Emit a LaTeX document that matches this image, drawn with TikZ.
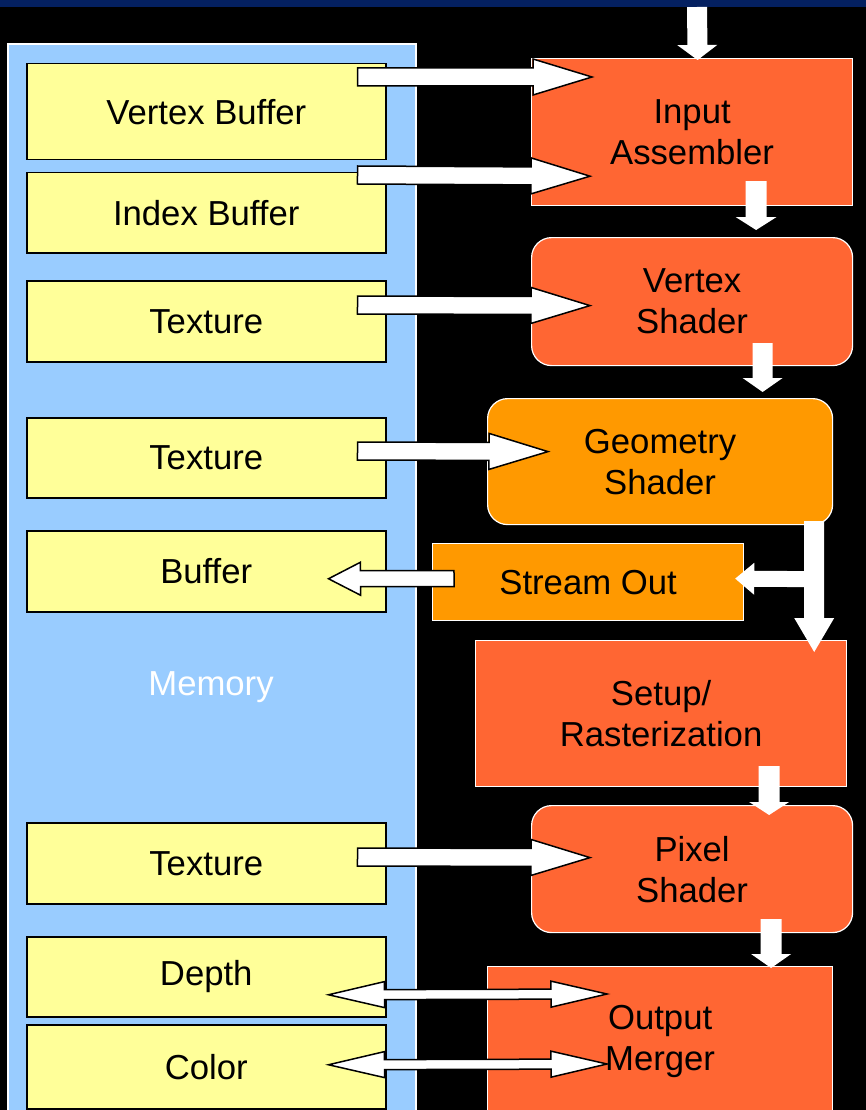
\documentclass[tikz,border=0pt]{standalone}
\usepackage{fontspec}
\setmainfont{Liberation Sans}
\usetikzlibrary{calc}

\definecolor{navybar}{RGB}{4,32,96}
\definecolor{memblue}{RGB}{153,204,255}
\definecolor{bufyellow}{RGB}{255,255,153}
\definecolor{stagered}{RGB}{255,102,51}
\definecolor{stageorange}{RGB}{255,153,0}

\tikzset{
	adims/.code args={#1/#2/#3}{\def\aw{#1}\def\ah{#2}\def\al{#3}},
	membox/.style={draw=black, fill=bufyellow, line width=1.5pt, anchor=north west,
		minimum width=359pt, inner sep=0pt},
	stage/.style={draw=white, line width=1.2pt, anchor=north west, inner sep=0pt, align=center},
	outarrow/.style={draw=black, fill=white, line width=1.5pt, line join=miter},
	flowarrow/.style={fill=white},
}

% block arrow: start, tip
\newcommand{\blockarrow}[3][]{%
	\path[#1] let \p1=#2, \p2=#3, \n1={veclen(\x2-\x1,\y2-\y1)},
		\n2={(\x2-\x1)/\n1}, \n3={(\y2-\y1)/\n1} in
		({\x1-\aw*\n3},{\y1+\aw*\n2})
		-- ({\x2-\al*\n2-\aw*\n3},{\y2-\al*\n3+\aw*\n2})
		-- ({\x2-\al*\n2-\ah*\n3},{\y2-\al*\n3+\ah*\n2})
		-- (\p2)
		-- ({\x2-\al*\n2+\ah*\n3},{\y2-\al*\n3-\ah*\n2})
		-- ({\x2-\al*\n2+\aw*\n3},{\y2-\al*\n3-\aw*\n2})
		-- ({\x1+\aw*\n3},{\y1-\aw*\n2}) -- cycle;}
% two-headed block arrow
\newcommand{\dblockarrow}[3][]{%
	\path[#1] let \p1=#2, \p2=#3, \n1={veclen(\x2-\x1,\y2-\y1)},
		\n2={(\x2-\x1)/\n1}, \n3={(\y2-\y1)/\n1} in
		(\p1)
		-- ({\x1+\al*\n2-\ah*\n3},{\y1+\al*\n3+\ah*\n2})
		-- ({\x1+\al*\n2-\aw*\n3},{\y1+\al*\n3+\aw*\n2})
		-- ({\x2-\al*\n2-\aw*\n3},{\y2-\al*\n3+\aw*\n2})
		-- ({\x2-\al*\n2-\ah*\n3},{\y2-\al*\n3+\ah*\n2})
		-- (\p2)
		-- ({\x2-\al*\n2+\ah*\n3},{\y2-\al*\n3-\ah*\n2})
		-- ({\x2-\al*\n2+\aw*\n3},{\y2-\al*\n3-\aw*\n2})
		-- ({\x1+\al*\n2+\aw*\n3},{\y1+\al*\n3-\aw*\n2})
		-- ({\x1+\al*\n2+\ah*\n3},{\y1+\al*\n3-\ah*\n2}) -- cycle;}

\begin{document}
\begin{tikzpicture}[x=1pt, y=-1pt, font=\fontsize{34.7}{41}\selectfont]
	\useasboundingbox (0,0) rectangle (866,1110);
	\fill[black] (0,0) rectangle (866,1110);
	\fill[navybar] (0,0) rectangle (866,7);

	% memory side
	\node[draw=white, line width=2pt, fill=memblue, anchor=north west, inner sep=0pt,
		minimum width=408pt, minimum height=1080pt] (mem) at (7,43) {};
	\node[text=white] (memlbl) at (211,687) {Memory};

	\node[membox, minimum height=96pt] (vb) at (26,63) {Vertex Buffer};
	\node[membox, minimum height=80pt] (ib) at (26,172) {Index Buffer};
	\node[membox, minimum height=81pt] (tx1) at (26,280) {Texture};
	\node[membox, minimum height=80pt] (tx2) at (26,417) {Texture};
	\node[membox, minimum height=81pt] (buf) at (26,530) {Buffer};
	\node[membox, minimum height=81pt] (tx3) at (26,822) {Texture};
	\node[membox, minimum height=80pt] (dep) at (26,936) {Depth};
	\node[membox, minimum height=84pt] (col) at (26,1024) {Color};

	% pipeline
	\node[stage, fill=stagered, minimum width=321pt, minimum height=147pt] (ia) at (531,58) {Input\\Assembler};
	\node[stage, fill=stagered, rounded corners=20pt, minimum width=321pt, minimum height=128pt] (vs) at (531,237) {Vertex\\Shader};
	\node[stage, fill=stageorange, rounded corners=20pt, minimum width=345pt, minimum height=126pt] (gs) at (487,398) {Geometry\\Shader};
	\node[stage, fill=stageorange, minimum width=311pt, minimum height=77pt] (so) at (432,543) {Stream Out};
	\node[stage, fill=stagered, minimum width=371pt, minimum height=146pt] (sr) at (475,640) {Setup/\\Rasterization};
	\node[stage, fill=stagered, rounded corners=20pt, minimum width=321pt, minimum height=127pt] (ps) at (531,805) {Pixel\\Shader};
	\node[stage, fill=stagered, minimum width=345pt, minimum height=149pt] (om) at (487,966) {Output\\Merger};

	% flow down the pipeline
	\coordinate (feed) at (697,7);
	\blockarrow[flowarrow, adims=10/20/15]{(feed)}{($(ia.north)+(5.5,2)$)}
	\blockarrow[flowarrow, adims=10.5/20.5/13]{($(ia.south)+(64,-25)$)}{($(vs.north)+(64,-7)$)}
	\blockarrow[flowarrow, adims=10/20/14]{($(vs.south)+(70.5,-23)$)}{($(gs.north)+(102.5,-6)$)}
	\blockarrow[flowarrow, adims=10/20/34]{($(gs.south east)+(-19,-4)$)}{($(sr.north east)+(-33,12)$)}
	\coordinate (split) at ($(gs.south east)+(-19,54)$);
	\blockarrow[flowarrow, adims=8/16/19]{(split)}{($(so.east)+(-9,-3.5)$)}
	\blockarrow[flowarrow, adims=10.5/20/13]{($(sr.south)+(108,-21)$)}{($(ps.north)+(77,10)$)}
	\blockarrow[flowarrow, adims=10.5/20/14]{($(ps.south)+(79,-14)$)}{($(om.north)+(111,2)$)}

	% memory traffic
	\blockarrow[outarrow, adims=9/18/59]{($(vb.north east)+(-29,14)$)}{($(ia.north west)+(61,19)$)}
	\blockarrow[outarrow, adims=9/18/59]{($(ib.north east)+(-29,3)$)}{($(ia.south west)+(59,-30)$)}
	\blockarrow[outarrow, adims=9/18/59]{($(tx1.north east)+(-29,25)$)}{($(vs.west)+(59,4)$)}
	\blockarrow[outarrow, adims=9/18/59]{($(tx2.north east)+(-29,34)$)}{($(gs.west)+(61,-10)$)}
	\blockarrow[outarrow, adims=8/16.5/32]{($(so.west)+(22,-3.5)$)}{($(buf.east)+(-58,7.5)$)}
	\blockarrow[outarrow, adims=9/18/59]{($(tx3.north east)+(-29,35)$)}{($(ps.west)+(59,-11.5)$)}
	\dblockarrow[outarrow, adims=5/13/56]{($(dep.east)+(-58,18)$)}{($(om.north west)+(120,28)$)}
	\dblockarrow[outarrow, adims=5/13/56]{($(col.east)+(-58,-2)$)}{($(om.north west)+(120,98)$)}
\end{tikzpicture}
\end{document}
